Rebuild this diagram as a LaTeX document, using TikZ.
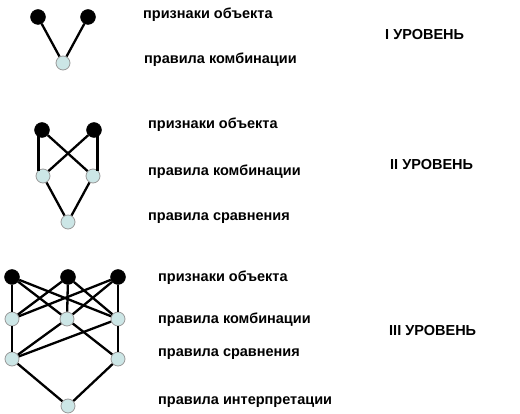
\documentclass[tikz,border=0pt]{standalone}
\usepackage{fontspec}
\setmainfont{Liberation Sans}
\begin{document}
\begin{tikzpicture}[x=1pt,y=-1pt,
  blk/.style={circle,fill=black,draw=black,inner sep=0pt,minimum size=15pt},
  lgt/.style={circle,fill={rgb,255:red,204;green,230;blue,230},draw=gray!80,line width=0.8pt,inner sep=0pt,minimum size=14pt},
  edge/.style={line width=2.3pt,black},
  lbl/.style={anchor=base west,inner sep=0pt,font=\bfseries\fontsize{14.5}{16}\selectfont},
  lvl/.style={anchor=base west,inner sep=0pt,font=\bfseries\fontsize{14.5}{16}\selectfont}]
\useasboundingbox (0,0) rectangle (520,414);
% ---------- Level I
\node[blk] (a1) at (38,17) {};
\node[blk] (a2) at (88,17) {};
\node[lgt] (a3) at (63,63) {};
\draw[edge] (a1) -- (a3);
\draw[edge] (a2) -- (a3);
\node[lbl] (t11) at (143,18.5) {признаки объекта};
\node[lbl] (t12) at (144,64) {правила комбинации};
\node[lvl] (t1) at (385,39.5) {I УРОВЕНЬ};
% ---------- Level II
\node[blk] (b1) at (42,130) {};
\node[blk] (b2) at (94,130) {};
\node[lgt] (b3) at (43,176) {};
\node[lgt] (b4) at (93,176) {};
\node[lgt] (b5) at (68,222) {};
\draw[edge] (b1.south west) ++(2,-1) coordinate (b1s) -- (b3.north west -| b1s);
\draw[edge] (b2.south east) ++(-2,-1) coordinate (b2s) -- (b4.north east -| b2s);
\draw[edge] (b1) -- (b4);
\draw[edge] (b2) -- (b3);
\draw[edge] (b3) -- (b5);
\draw[edge] (b4) -- (b5);
\node[lbl] (t21) at (148,129) {признаки объекта};
\node[lbl] (t22) at (148,175.5) {правила комбинации};
\node[lbl] (t23) at (148,220.5) {правила сравнения};
\node[lvl] (t2) at (390,170) {II УРОВЕНЬ};
% ---------- Level III
\node[blk] (c1) at (12,277) {};
\node[blk] (c2) at (68,277) {};
\node[blk] (c3) at (118,277) {};
\node[lgt] (d1) at (12,319) {};
\node[lgt] (d2) at (67,319) {};
\node[lgt] (d3) at (118,319) {};
\node[lgt] (e1) at (12,359) {};
\node[lgt] (e2) at (118,359) {};
\node[lgt] (f1) at (68,406) {};
\draw[edge] (c1) -- (d1);
\draw[edge] (c1) -- (d2);
\draw[edge] (c1) -- (d3);
\draw[edge] (c2) -- (d1);
\draw[edge] (c2) -- (d2);
\draw[edge] (c2) -- (d3);
\draw[edge] (c3) -- (d1);
\draw[edge] (c3) -- (d2);
\draw[edge] (c3) -- (d3);
\draw[edge] (d1) -- (e1);
\draw[edge] (e1) -- (d2);
\draw[edge] (e1) -- (d3);
\draw[edge] (d2) -- (e2);
\draw[edge] (d3) -- (e2);
\draw[edge] (e1) -- (f1);
\draw[edge] (e2) -- (f1);
\node[lbl] (t31) at (158,282) {признаки объекта};
\node[lbl] (t32) at (158,324) {правила комбинации};
\node[lbl] (t33) at (158,357) {правила сравнения};
\node[lbl] (t34) at (158,404) {правила интерпретации};
\node[lvl] (t3) at (389,335.5) {III УРОВЕНЬ};
\end{tikzpicture}
\end{document}
